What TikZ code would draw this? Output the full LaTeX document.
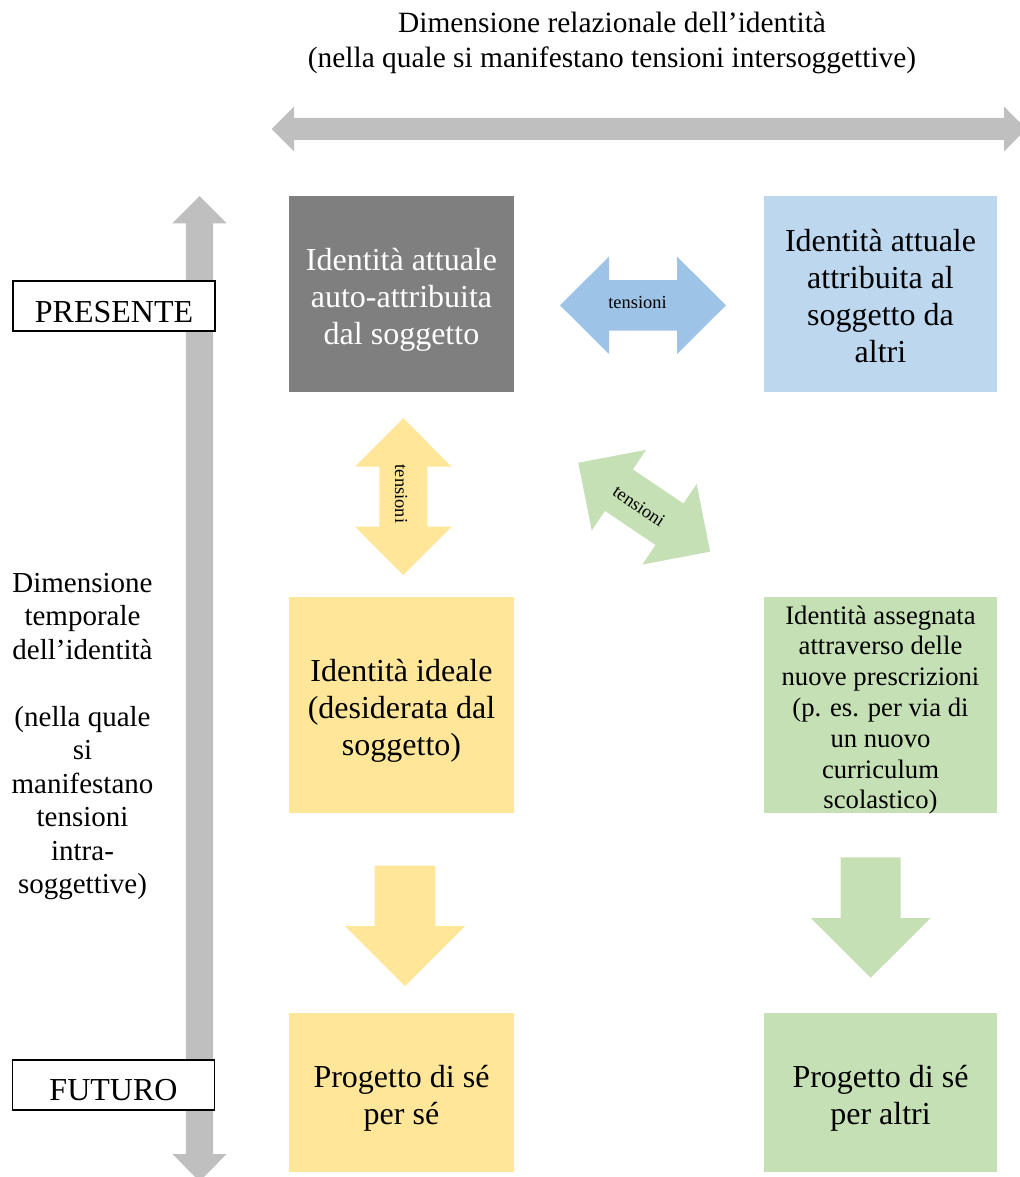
\documentclass[tikz,border=0pt]{standalone}
\usepackage{fontspec}
\setmainfont{Liberation Serif}
\definecolor{axisgray}{HTML}{BFBFBF}
\definecolor{darkbox}{HTML}{7F7F7F}
\definecolor{bluebox}{HTML}{BDD7EE}
\definecolor{bluearrow}{HTML}{9DC3E6}
\definecolor{yellowbox}{HTML}{FFE699}
\definecolor{greenbox}{HTML}{C5E0B4}
\begin{document}
\begin{tikzpicture}[x=0.75pt,y=-0.75pt,
  boxshape/.style={draw=none, inner sep=0pt},
  box/.style={align=center, inner sep=0pt, font=\fontsize{24pt}{27.75pt}\selectfont},
  smallbox/.style={align=center, inner sep=0pt, font=\fontsize{20pt}{23.1pt}\selectfont},
  labelbox/.style={draw=black, line width=1.1pt, fill=white, inner sep=0pt, minimum width=151.5pt, minimum height=37.5pt},
  labeltext/.style={inner sep=0pt, font=\fontsize{24pt}{27.75pt}\selectfont},
  tenslabel/.style={inner sep=0pt, font=\fontsize{13.8pt}{16pt}\selectfont},
  sidetext/.style={align=center, inner sep=0pt, font=\fontsize{21.75pt}{25.1pt}\selectfont},
  titletext/.style={align=center, inner sep=0pt, font=\fontsize{22.05pt}{26.25pt}\selectfont}]
\useasboundingbox (0,0) rectangle (1020,1177);

% title
\node[titletext] (title) at (612,43) {Dimensione relazionale dell’identità\\(nella quale si manifestano tensioni intersoggettive)};

% horizontal gray axis arrow
\fill[axisgray] (271.6,129) -- (294,106.5) -- (294,118) -- (1004,118) -- (1004,106.5) -- (1026.4,129)
  -- (1004,151.5) -- (1004,140) -- (294,140) -- (294,151.5) -- cycle;

% vertical gray axis arrow
\fill[axisgray] (199.5,196) -- (226.7,223.3) -- (213.1,223.3) -- (213.1,1154) -- (226.7,1154) -- (199.5,1181.3)
  -- (172.3,1154) -- (185.9,1154) -- (185.9,223.3) -- (172.3,223.3) -- cycle;

% time labels
\node[labelbox] (pres) at (114,306) {};
\node[labeltext] (prestext) at (114,312) {PRESENTE};
\node[labelbox] (fut) at (113.5,1085) {};
\node[labeltext] (futtext) at (113.5,1090.5) {FUTURO};

% side text
\node[sidetext] (side) at (82.5,736.5) {Dimensione\\temporale\\dell’identità\\~\\(nella quale\\si\\manifestano\\tensioni\\intra-\\soggettive)};

% boxes
\node[boxshape, fill=darkbox, minimum width=168.75pt, minimum height=147pt] (cur) at (401.5,294) {};
\node[box, text=white] (curtext) at (401.5,300) {Identità attuale\\auto-attribuita\\dal soggetto};
\node[boxshape, fill=bluebox, minimum width=174.75pt, minimum height=147pt] (oth) at (880.5,294) {};
\node[box] (othtext) at (880.5,296) {Identità attuale\\attribuita al\\soggetto da\\altri};
\node[boxshape, fill=yellowbox, minimum width=168.75pt, minimum height=162pt] (ideal) at (401.5,705) {};
\node[box] (idealtext) at (401.5,711) {Identità ideale\\(desiderata dal\\soggetto)};
\node[boxshape, fill=greenbox, minimum width=174.75pt, minimum height=162pt] (assig) at (880.5,705) {};
\node[smallbox] (assigtext) at (880.5,710) {Identità assegnata\\attraverso delle\\nuove prescrizioni\\(p. es. per via di\\un nuovo\\curriculum\\scolastico)};
\node[boxshape, fill=yellowbox, minimum width=168.75pt, minimum height=119.25pt] (projself) at (401.5,1092.5) {};
\node[box] (projselftext) at (401.5,1098.5) {Progetto di sé\\per sé};
\node[boxshape, fill=greenbox, minimum width=174.75pt, minimum height=119.25pt] (projoth) at (880.5,1092.5) {};
\node[box] (projothtext) at (880.5,1098.5) {Progetto di sé\\per altri};

% tension arrows
\begin{scope}[shift={(643,305.3)}]
\fill[bluearrow] (-83,0) -- (-34,-48.7) -- (-34,-25.3) -- (34,-25.3) -- (34,-48.7) -- (83,0)
  -- (34,48.7) -- (34,25.3) -- (-34,25.3) -- (-34,48.7) -- cycle;
\end{scope}
\node[tenslabel] (t1) at (637.5,302.5) {tensioni};

\begin{scope}[shift={(403.3,496.7)}, rotate=90]
\fill[yellowbox] (-78.5,0) -- (-30,-48.3) -- (-30,-24) -- (30,-24) -- (30,-48.3) -- (78.5,0)
  -- (30,48.3) -- (30,24) -- (-30,24) -- (-30,48.3) -- cycle;
\end{scope}
\node[tenslabel, rotate=-90] (t2) at (401,494) {tensioni};

\begin{scope}[shift={(644.2,507.2)}, rotate=-34]
\fill[greenbox] (-79.5,0) -- (-30.5,-48.6) -- (-30.5,-25) -- (30.5,-25) -- (30.5,-48.6) -- (79.5,0)
  -- (30.5,48.6) -- (30.5,25) -- (-30.5,25) -- (-30.5,48.6) -- cycle;
\end{scope}
\node[tenslabel, rotate=-34] (t3) at (639,506) {tensioni};

% downward arrows
\fill[yellowbox] (374.7,865.7) -- (435.3,865.7) -- (435.3,926) -- (465,926) -- (405,986) -- (345,926) -- (374.7,926) -- cycle;
\fill[greenbox] (840.7,857.3) -- (900.7,857.3) -- (900.7,918) -- (930.7,918) -- (870.7,977.7) -- (810.7,918) -- (840.7,918) -- cycle;
\end{tikzpicture}
\end{document}
